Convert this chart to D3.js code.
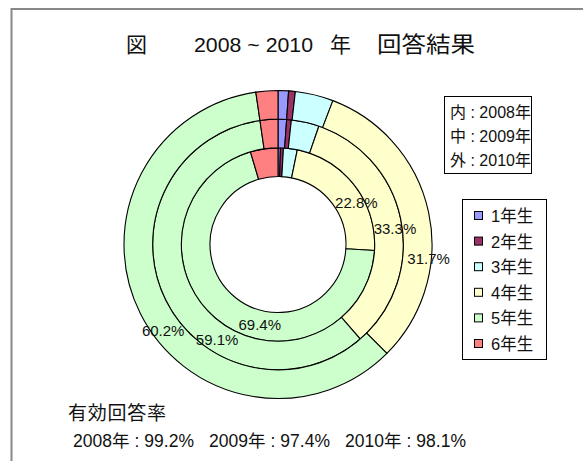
<!DOCTYPE html>
<html>
<head>
<meta charset="utf-8">
<script src="https://cdn.jsdelivr.net/npm/d3@7"></script>
<style>
  body { margin: 0; background: #fff; }
  text { font-family: "Liberation Sans", "Noto Sans CJK JP", sans-serif; fill: #111; }
</style>
</head>
<body>
<div class="chart"></div>
<script>
// grades, ring years and shares (%)
const grades = ["1年生", "2年生", "3年生", "4年生", "5年生", "6年生"];
const colors = ["#9999ff", "#993366", "#ccffff", "#ffffcc", "#ccffcc", "#ff8080"];
const years = ["2008年", "2009年", "2010年"];
const ringNames = ["内", "中", "外"];
const share2008 = [0.4, 0.5, 2.3, 22.8, 69.4, 4.6];
const share2009 = [1.1, 0.6, 3.6, 33.3, 59.1, 2.3];
const share2010 = [1.1, 0.7, 4.0, 31.7, 60.2, 2.3];
const labelled = ["4年生", "5年生"];
const responseRate = ["99.2%", "97.4%", "98.1%"];

const series = [share2008, share2009, share2010];

// small nudges so labels sit where excel put them
const labelNudge = [
  { "4年生": [13, 8], "5年生": [33, 16] },
  { "4年生": [8, 5], "5年生": [40, 49] },
  { "4年生": [14, 43], "5年生": [10, 23] },
];

const width = 583, height = 461;
const cx = 278, cy = 244.5;

const svg = d3.select(".chart").append("svg")
  .attr("width", width)
  .attr("height", height);

// frame (only left/top visible)
svg.append("path")
  .attr("d", `M11.5,${height} V9 H${width}`)
  .attr("fill", "none")
  .attr("stroke", "#888")
  .attr("stroke-width", 2);

// title
const title = svg.append("text").attr("y", 52).style("font-size", "21px");
title.append("tspan").attr("x", 126).text("図");
title.append("tspan").attr("x", 194).attr("textLength", 119)
  .attr("lengthAdjust", "spacingAndGlyphs").style("font-size", "20px").text("2008 ~ 2010");
title.append("tspan").attr("x", 330).text("年");
title.append("tspan").attr("x", 377).attr("textLength", 98)
  .attr("lengthAdjust", "spacingAndGlyphs").style("font-size", "22px").text("回答結果");

const radius = d3.scaleLinear().domain([0, years.length]).range([68, 154]);
const color = d3.scaleOrdinal().domain(grades).range(colors);
const pie = d3.pie().sort(null).value((d) => d.v);

const chart = svg.append("g").attr("transform", `translate(${cx}, ${cy})`);
const rings = chart.append("g");
const labels = chart.append("g");

series.forEach((vals, i) => {
  const arc = d3.arc().innerRadius(radius(i)).outerRadius(radius(i + 1));
  const slices = pie(grades.map((g, j) => ({ g: g, v: vals[j] })));

  rings.append("g")
    .selectAll("path")
    .data(slices)
    .enter()
    .append("path")
    .attr("d", arc)
    .attr("fill", (d) => color(d.data.g))
    .attr("stroke", "#000")
    .attr("stroke-width", 1.1);

  labels.append("g")
    .selectAll("text")
    .data(slices.filter((d) => labelled.includes(d.data.g)))
    .enter()
    .append("text")
    .attr("x", (d) => arc.centroid(d)[0] + labelNudge[i][d.data.g][0])
    .attr("y", (d) => arc.centroid(d)[1] + labelNudge[i][d.data.g][1] + 5.5)
    .attr("text-anchor", "middle")
    .style("font-size", "15px")
    .text((d) => d.data.v.toFixed(1) + "%");
});

// ring key box
const ringBox = svg.append("g");
ringBox.append("rect")
  .attr("x", 444.5).attr("y", 96.5)
  .attr("width", 87).attr("height", 77)
  .attr("fill", "#fff").attr("stroke", "#000");
const ringY = d3.scalePoint().domain(ringNames).range([112, 160]);
ringBox.selectAll("text")
  .data(ringNames)
  .enter()
  .append("text")
  .attr("x", 450)
  .attr("y", (d) => ringY(d) + 6)
  .style("font-size", "16px")
  .text((d, i) => d + " : " + years[i]);

// legend
const legend = svg.append("g");
legend.append("rect")
  .attr("x", 462.5).attr("y", 199.5)
  .attr("width", 84).attr("height", 160)
  .attr("fill", "#fff").attr("stroke", "#000");
const legY = d3.scalePoint().domain(grades).range([216, 344]);
const item = legend.selectAll("g.item")
  .data(grades)
  .enter()
  .append("g")
  .attr("class", "item")
  .attr("transform", (d) => `translate(0, ${legY(d)})`);
item.append("rect")
  .attr("x", 474.5).attr("y", -4.5)
  .attr("width", 8).attr("height", 8)
  .attr("fill", (d) => color(d))
  .attr("stroke", "#000");
item.append("text")
  .attr("x", 491)
  .attr("y", 6)
  .style("font-size", "16.5px")
  .text((d) => d);

// response rate note
svg.append("text")
  .attr("x", 68).attr("y", 420)
  .attr("textLength", 98)
  .style("font-size", "19px")
  .text("有効回答率");
const rateX = d3.scalePoint().domain(years).range([73, 345]);
svg.append("g")
  .selectAll("text")
  .data(years)
  .enter()
  .append("text")
  .attr("x", (d) => rateX(d))
  .attr("y", 447)
  .attr("textLength", 121)
  .style("font-size", "17.5px")
  .text((d, i) => d + " : " + responseRate[i]);
</script>
</body>
</html>
